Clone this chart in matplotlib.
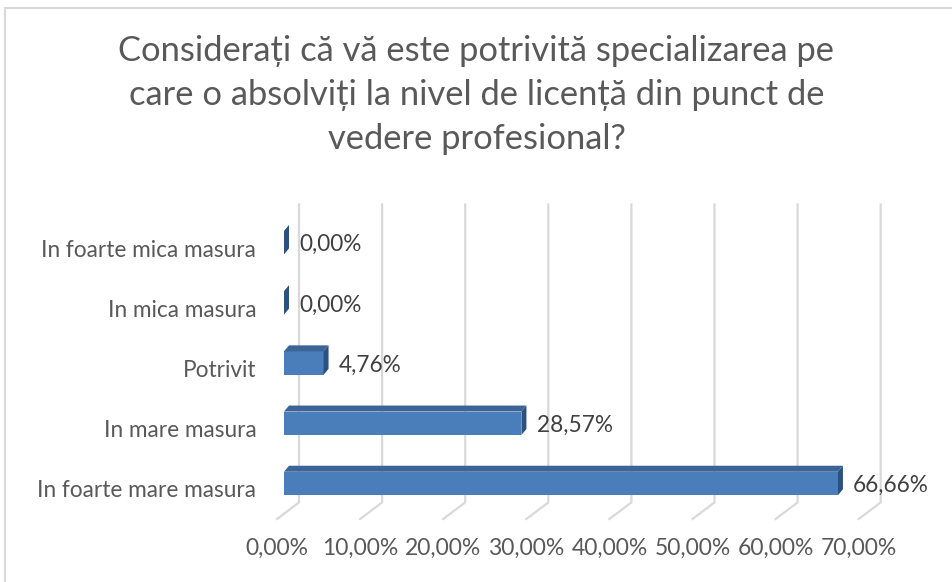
import matplotlib.pyplot as plt
import matplotlib.transforms as mtransforms
from matplotlib.patches import Polygon, Rectangle
from matplotlib.lines import Line2D

categories = ["In foarte mica masura", "In mica masura", "Potrivit",
              "In mare masura", "In foarte mare masura"]
values = [0.0, 0.0, 4.76, 28.57, 66.66]
value_labels = ["0,00%", "0,00%", "4,76%", "28,57%", "66,66%"]
xticks = [0, 10, 20, 30, 40, 50, 60, 70]
xtick_labels = ["0,00%", "10,00%", "20,00%", "30,00%", "40,00%", "50,00%", "60,00%", "70,00%"]
title = ("Considerați că vă este potrivită specializarea pe\n"
         "care o absolviți la nivel de licență din punct de\n"
         "vedere profesional?")

FRONT = "#4a7ebb"
TOP = "#3c6496"
SIDE = "#2c5080"
GRID = "#d9d9d9"
TEXT = "#595959"

plt.rcParams["font.family"] = ["Lato", "DejaVu Sans"]

W, H = 953, 582
fig = plt.figure(figsize=(W / 100, H / 100), dpi=100, facecolor="white")

# axes placed in pixel terms: 0% at x=284, 8.31 px per percent
px_per = 8.31
xmin, xmax = -3, 75
left_px = 284 - (0 - xmin) * px_per
right_px = 284 + xmax * px_per
top_px, bot_px = 218, 519
ax = fig.add_axes([left_px / W, 1 - bot_px / H, (right_px - left_px) / W, (bot_px - top_px) / H])
ax.set_xlim(xmin, xmax)
ax.set_ylim(4.5, -0.5)
for s in ax.spines.values():
    s.set_visible(False)

# 3d-ish gridlines: floor diagonal + back wall vertical
gx = ax.get_xaxis_transform()
back_dx = 15 / px_per
front_dx = -7 / px_per
for v in xticks:
    ax.add_line(Line2D([v + front_dx, v + back_dx, v + back_dx], [0.0, 0.055, 1.045],
                       transform=gx, color=GRID, lw=1.6, clip_on=False, zorder=0))

# bars with top and side faces
depth_x = 5 / px_per
depth_y = 6 / 60.2
h = 0.39
shift = -0.09
for i, v in enumerate(values):
    yc = i + shift
    y0, y1 = yc - h / 2, yc + h / 2
    if v > 0:
        ax.add_patch(Rectangle((0, y0), v, h, facecolor=FRONT, edgecolor="none", zorder=3))
        ax.add_patch(Polygon([(0, y0), (v, y0), (v + depth_x, y0 - depth_y), (depth_x, y0 - depth_y)],
                             closed=True, facecolor=TOP, edgecolor="none", zorder=3))
    ax.add_patch(Polygon([(v, y0), (v + depth_x, y0 - depth_y), (v + depth_x, y1 - depth_y), (v, y1)],
                         closed=True, facecolor=SIDE, edgecolor="none", zorder=3))
    ax.annotate(value_labels[i], xy=(v, yc), xytext=(11, -1.5), textcoords="offset points",
                ha="left", va="center", fontsize=16.3, color="#404040")

ax.set_yticks(range(len(categories)))
ax.set_yticklabels(categories, fontsize=16.3, color=TEXT)
ax.set_xticks(xticks)
ax.set_xticklabels(xtick_labels, fontsize=16.5, color=TEXT)
ax.tick_params(axis="y", length=0, pad=2)
ax.tick_params(axis="x", length=0, pad=13.5)
shift_lbl = mtransforms.ScaledTranslation(-7 / 100, 0, fig.dpi_scale_trans)
for lbl in ax.get_xticklabels():
    lbl.set_transform(lbl.get_transform() + shift_lbl)

fig.text(0.5, 1 - 95 / H, title, ha="center", va="center", fontsize=24.8,
         color=TEXT, linespacing=1.45)

# chart area border (only top and left visible in the crop)
fig.add_artist(Line2D([5 / W, 5 / W], [0, 1 - 8 / H], transform=fig.transFigure, color=GRID, lw=1.5))
fig.add_artist(Line2D([5 / W, 1], [1 - 8 / H, 1 - 8 / H], transform=fig.transFigure, color=GRID, lw=1.5))

fig.savefig("out.png", dpi=100, facecolor="white")
